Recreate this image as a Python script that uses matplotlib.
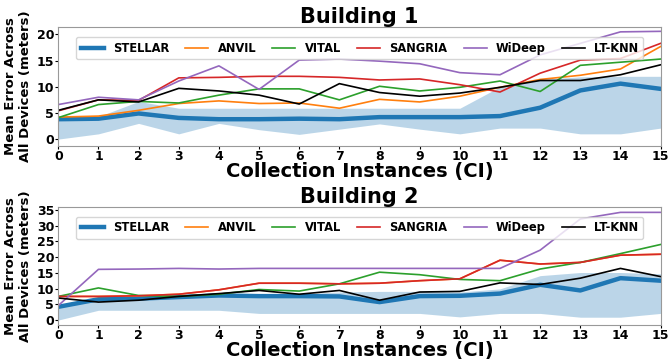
import numpy as np
import matplotlib
matplotlib.use('Agg')
import matplotlib.pyplot as plt

plt.rcParams['font.family'] = 'DejaVu Sans'
plt.rcParams['font.weight'] = 'bold'

ci = np.arange(16)
methods = ['STELLAR', 'ANVIL', 'VITAL', 'SANGRIA', 'WiDeep', 'LT-KNN']
colors = ['tab:blue', 'tab:orange', 'tab:green', 'tab:red', 'tab:purple', 'black']

# Building 1 mean errors (meters)
b1_stellar = [3.8, 3.9, 4.9, 4.05, 3.8, 3.8, 3.9, 3.8, 4.2, 4.2, 4.2, 4.4, 6.0, 9.3, 10.6, 9.6]
b1_stellar_lo = [0.0, 1.0, 3.0, 1.0, 3.0, 1.8, 0.9, 1.9, 2.9, 1.9, 1.0, 2.1, 2.1, 1.0, 1.0, 2.1]
b1_stellar_hi = [4.0, 4.3, 7.2, 5.9, 5.9, 5.9, 5.9, 5.9, 5.9, 5.9, 5.9, 10.0, 11.4, 11.9, 12.0, 12.0]
b1_anvil = [4.2, 4.4, 5.5, 6.8, 7.3, 6.8, 6.9, 5.9, 7.6, 7.1, 8.2, 9.9, 11.4, 12.2, 13.4, 17.7]
b1_vital = [4.1, 6.6, 7.2, 6.9, 8.4, 9.6, 9.6, 7.5, 10.1, 9.2, 9.9, 11.1, 9.1, 14.1, 14.7, 15.3]
b1_sangria = [5.4, 7.5, 7.4, 11.7, 11.8, 12.0, 12.0, 11.8, 11.3, 11.5, 10.4, 9.0, 12.6, 15.1, 15.4, 18.3]
b1_wideep = [6.6, 8.0, 7.5, 11.1, 14.0, 9.5, 15.1, 15.3, 14.9, 14.4, 12.7, 12.3, 16.1, 18.3, 20.5, 20.6]
b1_ltknn = [5.5, 7.5, 7.1, 9.7, 9.2, 8.4, 6.7, 10.6, 8.9, 8.2, 8.8, 9.9, 11.2, 11.2, 12.3, 14.2]

# Building 2 mean errors (meters)
b2_stellar = [4.2, 6.6, 6.8, 7.3, 7.8, 7.6, 7.6, 7.5, 5.7, 7.6, 7.7, 8.4, 11.2, 9.4, 13.3, 12.5]
b2_stellar_lo = [0.0, 3.1, 3.1, 3.1, 3.1, 2.1, 2.1, 2.1, 2.1, 2.1, 1.0, 2.1, 2.1, 0.9, 0.9, 2.1]
b2_stellar_hi = [4.5, 7.0, 7.3, 7.8, 8.4, 8.4, 8.4, 8.9, 9.1, 9.1, 8.9, 9.9, 14.1, 15.1, 15.1, 14.7]
b2_anvil = [7.5, 7.5, 7.7, 8.2, 9.6, 11.7, 11.7, 11.5, 11.7, 12.5, 13.1, 19.0, 17.8, 18.3, 20.6, 20.9]
b2_vital = [7.5, 10.2, 7.8, 7.5, 8.2, 9.7, 9.2, 11.5, 15.2, 14.4, 12.9, 12.5, 16.2, 18.3, 21.1, 24.0]
b2_sangria = [7.5, 7.5, 7.7, 8.2, 9.6, 11.7, 11.7, 11.5, 11.7, 12.5, 13.1, 19.0, 17.8, 18.3, 20.6, 20.9]
b2_wideep = [4.6, 16.1, 16.2, 16.4, 16.2, 16.4, 16.4, 16.4, 16.4, 16.4, 16.4, 16.4, 22.2, 32.1, 34.2, 34.2]
b2_ltknn = [7.0, 5.7, 6.3, 7.5, 8.4, 9.4, 8.2, 9.4, 6.3, 8.9, 9.1, 11.8, 11.3, 13.3, 16.4, 13.8]

buildings = [
    ('Building 1', b1_stellar_lo, b1_stellar_hi,
     [b1_stellar, b1_anvil, b1_vital, b1_sangria, b1_wideep, b1_ltknn],
     (-1.3, 21.4), [0, 5, 10, 15, 20]),
    ('Building 2', b2_stellar_lo, b2_stellar_hi,
     [b2_stellar, b2_anvil, b2_vital, b2_sangria, b2_wideep, b2_ltknn],
     (-1.6, 36.0), [0, 5, 10, 15, 20, 25, 30, 35]),
]

fig = plt.figure(figsize=(6.7, 3.62), dpi=100)
positions = [[0.087, 0.597, 0.899, 0.328], [0.087, 0.102, 0.899, 0.327]]

for pos, (title, lo, hi, series, ylim, yticks) in zip(positions, buildings):
    ax = fig.add_axes(pos)
    ax.fill_between(ci, lo, hi, color='tab:blue', alpha=0.3, linewidth=0)
    for name, vals, c in zip(methods, series, colors):
        lw = 3.2 if name == 'STELLAR' else 1.2
        ax.plot(ci, vals, color=c, linewidth=lw, label=name)
    ax.set_xlim(0, 15)
    ax.set_ylim(*ylim)
    ax.set_xticks(ci)
    ax.set_yticks(yticks)
    ax.tick_params(labelsize=9, length=2, pad=1)
    for s in ax.spines.values():
        s.set_color('#999999')
    ax.set_title(title, fontsize=15, fontweight='bold', pad=2)
    ax.set_xlabel('Collection Instances (CI)', fontsize=14, fontweight='bold', labelpad=-1)
    ax.set_ylabel('Mean Error Across\nAll Devices (meters)', fontsize=9.5, fontweight='bold', labelpad=3)
    ax.legend(loc='upper center', ncol=6, bbox_to_anchor=(0.5, 0.965),
              columnspacing=1.4, handlelength=2.0, handletextpad=0.8, borderpad=0.4,
              framealpha=0.8, prop={'weight': 'bold', 'size': 8.3})

fig.savefig('out.png', dpi=100)
